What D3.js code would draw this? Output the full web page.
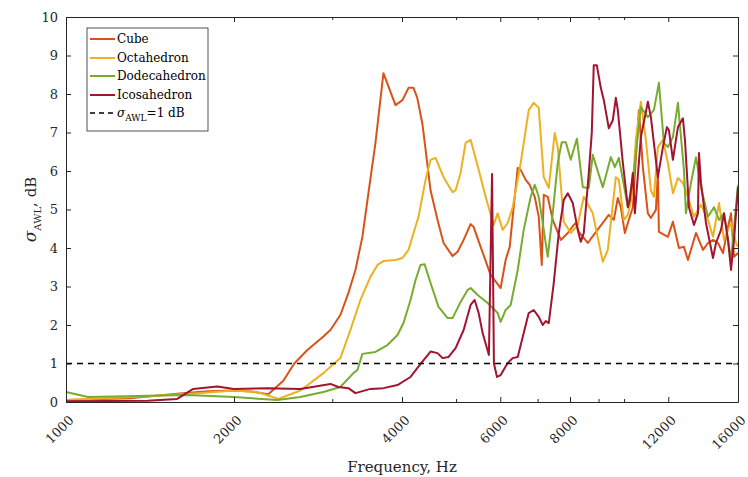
<!DOCTYPE html>
<html>
<head>
<meta charset="utf-8">
<script src="https://cdn.jsdelivr.net/npm/d3@7"></script>
<style>
  body { margin: 0; background: #fff; }
  svg { display: block; }
</style>
</head>
<body>
<div id="chart-container"></div>
<script>
// Data: [frequency in Hz, sigma_AWL in dB]
const cubeData = [
  [1000,0.05],[1300,0.1],[1600,0.22],[1800,0.28],[2000,0.3],[2150,0.27],[2304,0.2],
  [2451,0.55],[2565,1.0],[2707,1.35],[2892,1.7],[2977,1.87],[3102,2.26],[3206,2.83],
  [3301,3.43],[3397,4.29],[3482,5.42],[3585,6.73],[3705,8.54],[3894,7.71],[4008,7.84],
  [4109,8.16],[4195,8.16],[4260,7.9],[4354,7.2],[4500,5.5],[4632,4.73],[4748,4.13],
  [4928,3.79],[5031,3.9],[5158,4.21],[5309,4.62],[5375,4.55],[5533,4.03],[5766,3.3],
  [6010,2.96],[6135,3.69],[6238,4.03],[6341,5.06],[6448,6.08],[6528,6.03],[6664,5.77],
  [6775,5.64],[6917,5.33],[7032,4.81],[7120,3.56],[7179,5.38],[7298,5.33],[7450,4.73],
  [7701,4.21],[7927,4.39],[8125,4.6],[8192,4.65],[8295,4.42],[8609,4.13],[8824,4.34],
  [9159,4.65],[9389,4.86],[9586,4.73],[9745,5.3],[9866,5.06],[10032,4.39],[10157,4.65],
  [10368,5.06],[10629,7.58],[10806,6.1],[11031,4.9],[11169,4.78],[11402,4.99],[11497,5.95],
  [11545,4.42],[11982,4.29],[12232,4.68],[12540,4.0],[12801,4.03],[13014,3.69],[13453,4.39],
  [13848,3.95],[14136,4.13],[14431,4.21],[14733,4.13],[15040,3.87],[15354,4.55],[15546,4.9],
  [15740,3.77],[16000,3.87]
];

const octaData = [
  [1000,0.05],[1400,0.15],[1700,0.22],[2000,0.3],[2202,0.26],[2401,0.08],[2630,0.3],
  [2892,0.75],[3102,1.14],[3233,1.87],[3369,2.65],[3512,3.25],[3615,3.56],[3705,3.66],
  [3894,3.69],[4008,3.74],[4109,3.95],[4195,4.39],[4282,4.81],[4408,5.77],[4500,6.29],
  [4594,6.34],[4748,5.84],[4928,5.45],[4990,5.5],[5094,5.95],[5200,6.73],[5309,6.81],
  [5488,6.03],[5648,5.33],[5838,4.6],[5936,4.9],[6060,4.47],[6186,4.65],[6315,5.06],
  [6528,6.21],[6747,7.58],[6888,7.77],[7032,7.64],[7179,5.84],[7329,5.56],[7512,6.99],
  [7606,6.62],[7797,4.68],[8025,4.39],[8261,4.6],[8468,5.33],[8788,4.9],[9159,3.64],
  [9350,3.95],[9666,5.84],[9786,5.77],[9990,4.73],[10157,4.86],[10326,5.33],[10498,6.81],
  [10717,7.8],[10940,6.81],[11169,5.5],[11309,5.33],[11497,6.62],[11737,6.81],[11982,6.21],
  [12232,5.42],[12488,5.82],[12748,5.69],[13014,5.33],[13342,4.81],[13733,5.12],[14136,4.73],
  [14431,4.29],[14794,5.17],[15102,4.21],[15546,4.65],[15871,4.13],[16000,4.03]
];

const dodecaData = [
  [1000,0.26],[1095,0.13],[1649,0.18],[2000,0.13],[2391,0.05],[2630,0.13],[2892,0.26],
  [3102,0.39],[3273,0.75],[3328,0.83],[3397,1.25],[3585,1.3],[3767,1.48],[3926,1.74],
  [4025,2.05],[4143,2.65],[4230,3.17],[4318,3.56],[4390,3.58],[4500,3.09],[4651,2.47],
  [4828,2.18],[4928,2.18],[5094,2.6],[5244,2.91],[5309,2.96],[5465,2.78],[5695,2.57],
  [5936,2.31],[6010,2.08],[6135,2.39],[6263,2.52],[6448,3.43],[6609,4.47],[6803,5.33],
  [6917,5.64],[7032,5.33],[7179,4.47],[7298,3.77],[7450,4.9],[7606,6.21],[7733,6.75],
  [7862,6.75],[8025,6.29],[8230,6.84],[8433,5.58],[8645,5.56],[8788,6.42],[8898,6.16],
  [9159,5.58],[9467,6.36],[9626,6.1],[9786,6.34],[10157,5.06],[10412,5.95],[10717,7.66],
  [11031,7.4],[11309,7.58],[11545,8.29],[11785,6.73],[11982,6.62],[12232,6.88],[12488,7.77],
  [12801,6.03],[12907,4.9],[13177,5.69],[13453,6.36],[13733,5.58],[14136,4.81],[14491,5.06],
  [14794,4.73],[15102,4.9],[15546,3.69],[16000,5.64]
];

const icosaData = [
  [1000,0.02],[1400,0.03],[1582,0.08],[1690,0.34],[1866,0.4],[2000,0.34],[2295,0.36],
  [2630,0.34],[2977,0.47],[3077,0.39],[3206,0.36],[3301,0.23],[3512,0.34],[3705,0.36],
  [3926,0.44],[4143,0.65],[4318,0.99],[4500,1.31],[4632,1.27],[4729,1.14],[4848,1.17],
  [4990,1.4],[5158,1.87],[5309,2.52],[5398,2.65],[5488,2.31],[5579,1.79],[5725,1.22],
  [5800,5.92],[5845,1.0],[5920,0.65],[6010,0.7],[6186,1.01],[6315,1.14],[6448,1.17],
  [6582,1.69],[6747,2.31],[6888,2.39],[7032,2.21],[7149,2.0],[7238,2.1],[7329,2.05],
  [7481,3.09],[7638,4.39],[7797,5.25],[7927,5.42],[8091,5.17],[8261,4.47],[8363,4.16],
  [8468,4.39],[8645,5.95],[8752,6.99],[8824,8.75],[8935,8.75],[9084,8.16],[9198,7.84],
  [9389,7.11],[9546,7.32],[9666,7.9],[9745,7.58],[9949,6.21],[10157,5.06],[10241,5.25],
  [10368,5.95],[10455,4.9],[10717,6.88],[10940,7.53],[11031,7.8],[11169,7.4],[11497,5.84],
  [11737,6.62],[11933,7.14],[12032,7.06],[12232,6.29],[12488,7.14],[12748,7.37],[12854,6.81],
  [13068,5.06],[13342,4.6],[13563,4.9],[13620,6.47],[13733,5.69],[14020,4.65],[14431,3.74],
  [14611,4.13],[14917,4.47],[15102,4.9],[15354,4.21],[15546,3.43],[15740,4.21],[16000,5.58]
];

const seriesNames = ["Cube", "Octahedron", "Dodecahedron", "Icosahedron"];
const seriesColors = ["#D95319", "#EDB120", "#77AC30", "#A2142F"];
const seriesData = [cubeData, octaData, dodecaData, icosaData];

const xMajorTicks = [1000, 2000, 4000, 6000, 8000, 12000, 16000];
const xMinorTicks = [3000, 5000, 7000, 9000, 10000];
const yTicks = [0, 1, 2, 3, 4, 5, 6, 7, 8, 9, 10];
const thresholdValue = 1;

// Dimensions
const margin = { top: 17, right: 10, bottom: 75, left: 66 };
const width = 748 - margin.left - margin.right;
const height = 477 - margin.top - margin.bottom;
const font = "'DejaVu Serif', serif";
const axisColor = "#262626";

const x = d3.scaleLog().domain([1000, 16000]).range([0, width]);
const y = d3.scaleLinear().domain([0, 10]).range([height, 0]);

const svg = d3.select("#chart-container")
    .append("svg")
    .attr("width", width + margin.left + margin.right)
    .attr("height", height + margin.top + margin.bottom)
    .append("g")
    .attr("transform", `translate(${margin.left},${margin.top})`);

// Lines
const line = d3.line()
    .x(d => x(d[0]))
    .y(d => y(d[1]));

seriesData.forEach((data, i) => {
  svg.append("path")
      .datum(data)
      .attr("fill", "none")
      .attr("stroke", seriesColors[i])
      .attr("stroke-width", 2)
      .attr("stroke-linejoin", "round")
      .attr("d", line);
});

// Threshold dashed line
svg.append("line")
    .attr("x1", 0)
    .attr("x2", width)
    .attr("y1", y(thresholdValue))
    .attr("y2", y(thresholdValue))
    .attr("stroke", "#000")
    .attr("stroke-width", 1.5)
    .attr("stroke-dasharray", "6,5");

// Axes
function styleAxis(g) {
  g.attr("font-family", font).attr("font-size", 13);
  g.select(".domain").attr("stroke", axisColor);
  g.selectAll(".tick line").attr("stroke", axisColor);
  g.selectAll(".tick text").attr("fill", "#262626");
}

const xBottom = svg.append("g")
    .attr("transform", `translate(0,${height})`)
    .call(d3.axisBottom(x).tickValues(xMajorTicks).tickSize(-5).tickSizeOuter(0)
        .tickFormat(d3.format("d")))
    .call(styleAxis);

xBottom.selectAll(".tick text")
    .attr("x", 0)
    .attr("y", 0)
    .attr("dy", null)
    .attr("text-anchor", "end")
    .attr("transform", "translate(8,19) rotate(-45)");

svg.append("g")
    .attr("transform", `translate(0,${height})`)
    .call(d3.axisBottom(x).tickValues(xMinorTicks).tickSize(-3).tickFormat(""))
    .call(styleAxis)
    .select(".domain").remove();

svg.append("g")
    .call(d3.axisTop(x).tickValues(xMajorTicks).tickSize(-5).tickSizeOuter(0).tickFormat(""))
    .call(styleAxis);

svg.append("g")
    .call(d3.axisTop(x).tickValues(xMinorTicks).tickSize(-3).tickFormat(""))
    .call(styleAxis)
    .select(".domain").remove();

svg.append("g")
    .call(d3.axisLeft(y).tickValues(yTicks).tickSize(-5).tickSizeOuter(0).tickPadding(8))
    .call(styleAxis);

svg.append("g")
    .attr("transform", `translate(${width},0)`)
    .call(d3.axisRight(y).tickValues(yTicks).tickSize(-5).tickSizeOuter(0).tickFormat(""))
    .call(styleAxis);

// Axis titles
svg.append("text")
    .attr("x", width / 2)
    .attr("y", height + 70)
    .attr("text-anchor", "middle")
    .attr("font-family", font)
    .attr("font-size", 15)
    .attr("fill", "#262626")
    .text("Frequency, Hz");

const yTitle = svg.append("text")
    .attr("transform", `translate(-30,${height / 2}) rotate(-90)`)
    .attr("text-anchor", "middle")
    .attr("font-family", font)
    .attr("font-size", 15)
    .attr("fill", "#262626");
yTitle.append("tspan").attr("font-style", "italic").attr("font-size", 17).text("σ");
yTitle.append("tspan").attr("font-size", 10).attr("dy", 5).text("AWL");
yTitle.append("tspan").attr("dy", -5).text(", dB");

// Legend
const legend = svg.append("g")
    .attr("transform", `translate(${87 - margin.left},${28 - margin.top})`);

legend.append("rect")
    .attr("width", 121)
    .attr("height", 103)
    .attr("fill", "#fff")
    .attr("stroke", axisColor)
    .attr("stroke-width", 0.8);

const rowY = [11, 30, 48, 67, 85];

seriesNames.forEach((name, i) => {
  legend.append("line")
      .attr("x1", 3).attr("x2", 28)
      .attr("y1", rowY[i]).attr("y2", rowY[i])
      .attr("stroke", seriesColors[i])
      .attr("stroke-width", 2);
  legend.append("text")
      .attr("x", 30)
      .attr("y", rowY[i])
      .attr("dy", "0.35em")
      .attr("font-family", font)
      .attr("font-size", 12)
      .attr("fill", "#000")
      .text(name);
});

legend.append("line")
    .attr("x1", 3).attr("x2", 28)
    .attr("y1", rowY[4]).attr("y2", rowY[4])
    .attr("stroke", "#000")
    .attr("stroke-width", 1.5)
    .attr("stroke-dasharray", "5,4");

const thrLabel = legend.append("text")
    .attr("x", 30)
    .attr("y", rowY[4])
    .attr("dy", "0.35em")
    .attr("font-family", font)
    .attr("font-size", 12)
    .attr("fill", "#000");
thrLabel.append("tspan").attr("font-style", "italic").text("σ");
thrLabel.append("tspan").attr("font-size", 9).attr("dy", 4).text("AWL");
thrLabel.append("tspan").attr("dy", -4).text("=1 dB");
</script>
</body>
</html>
